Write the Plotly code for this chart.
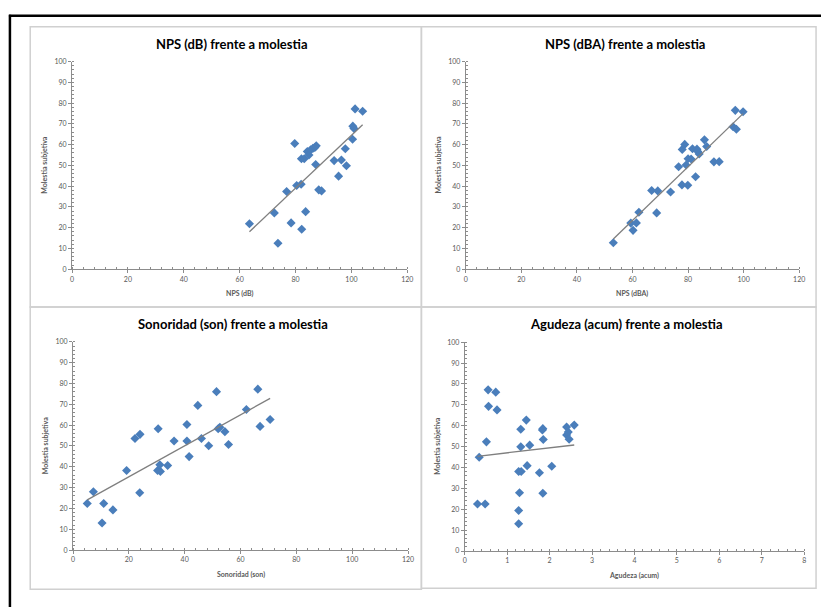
import numpy as np
import plotly.graph_objects as go

# ---------------- data ----------------
nps_db_x = [63.5, 72.4, 73.7, 76.8, 78.4, 79.7, 80.4, 82.0, 82.1, 82.2, 83.1, 83.6,
            84.2, 84.8, 85.4, 86.2, 86.9, 87.4, 87.2, 88.3, 89.3, 93.8, 95.4, 96.4,
            97.8, 98.2, 100.4, 100.5, 100.9, 101.3, 104.0]
nps_db_y = [21.9, 27.1, 12.5, 37.4, 22.3, 60.5, 40.3, 40.9, 53.2, 19.2, 53.2, 27.7,
            56.7, 55.0, 57.5, 58.2, 58.6, 59.4, 50.4, 38.2, 37.7, 52.3, 44.8, 52.6,
            58.0, 49.8, 62.6, 68.9, 67.8, 77.2, 76.1]

nps_dba_x = [53.1, 59.4, 61.4, 60.2, 62.3, 66.9, 69.1, 68.7, 73.7, 76.6, 77.8, 79.9,
             77.9, 78.8, 79.3, 80.0, 81.1, 81.6, 82.7, 83.2, 83.5, 84.0, 85.9, 86.7,
             89.3, 91.2, 96.2, 97.4, 97.0, 99.8]
nps_dba_y = [12.7, 22.2, 22.3, 18.7, 27.4, 37.9, 37.7, 27.1, 37.2, 49.3, 40.6, 40.4,
             57.7, 60.1, 50.2, 53.2, 53.1, 58.0, 44.5, 57.8, 56.7, 55.5, 62.3, 59.1,
             51.7, 51.8, 68.6, 67.4, 76.5, 75.8]

son_x = [5.1, 7.3, 10.4, 11.0, 14.3, 19.2, 22.2, 24.0, 23.9, 30.5, 30.3, 31.3, 31.1,
         33.9, 36.2, 40.8, 40.8, 41.6, 44.7, 46.0, 48.6, 51.4, 52.0, 52.6, 54.4,
         55.7, 62.1, 66.2, 67.0, 70.6]
son_y = [22.4, 28.0, 13.0, 22.4, 19.3, 38.2, 53.6, 55.6, 27.5, 58.3, 38.2, 37.8, 41.0,
         40.6, 52.4, 60.3, 52.4, 44.9, 69.5, 53.6, 50.1, 76.1, 58.3, 59.0, 56.9,
         50.7, 67.5, 77.3, 59.4, 62.7]

agu_x = [0.55, 0.73, 0.56, 0.76, 1.45, 1.32, 1.84, 1.83, 2.40, 2.58, 2.40, 2.44, 2.46,
         0.51, 1.85, 1.32, 1.53, 0.34, 1.47, 2.05, 1.27, 1.33, 1.76, 1.29, 1.84,
         0.30, 0.48, 1.27, 1.27]
agu_y = [77.2, 76.1, 69.3, 67.6, 62.7, 58.3, 58.6, 58.0, 59.4, 60.3, 55.6, 57.0, 53.5,
         52.3, 53.4, 49.9, 50.7, 44.9, 40.9, 40.6, 38.1, 38.1, 37.5, 27.9, 27.7,
         22.5, 22.5, 19.4, 13.1]

titles = ["NPS (dB) frente a molestia", "NPS (dBA) frente a molestia",
          "Sonoridad (son) frente a molestia", "Agudeza (acum) frente a molestia"]
xtitles = ["NPS (dB)", "NPS (dBA)", "Sonoridad (son)", "Agudeza (acum)"]
ytitle = "Molestia subjetiva"

# ---------------- layout geometry ----------------
W, H = 827, 610
def px(x): return x / W
def py(y): return 1 - y / H

panels = [
    dict(x=nps_db_x, y=nps_db_y, xr=[0, 120], xd=20, xm=4, box=(70.7, 409.3, 57.3, 267.7)),
    dict(x=nps_dba_x, y=nps_dba_y, xr=[0, 120], xd=20, xm=4, box=(468.3, 805.0, 57.3, 267.7)),
    dict(x=son_x, y=son_y, xr=[0, 120], xd=20, xm=4, box=(71.7, 410.0, 341.4, 552.3)),
    dict(x=agu_x, y=agu_y, xr=[0, 8], xd=1, xm=0.2, box=(467.3, 810.0, 341.7, 553.3)),
]

FONT = "Lato, 'Open Sans', sans-serif"
MARK = "#4A7EBB"
AXC = "#8C8C8C"
TXT = "#595959"

fig = go.Figure()
annotations = []
shapes = []

for i, p in enumerate(panels):
    n = i + 1
    xa = "x" if n == 1 else f"x{n}"
    ya = "y" if n == 1 else f"y{n}"
    x0, x1, y0, y1 = p["box"]
    fig.add_trace(go.Scatter(
        x=p["x"], y=p["y"], mode="markers", xaxis=xa, yaxis=ya,
        marker=dict(symbol="diamond", size=7, color=MARK, line=dict(width=0)),
        showlegend=False, hoverinfo="x+y"))
    # linear trendline (least squares, as in Excel)
    xs = np.array(p["x"]); ys = np.array(p["y"])
    b, a = np.polyfit(xs, ys, 1)
    tx = np.array([xs.min(), xs.max()])
    fig.add_trace(go.Scatter(
        x=tx, y=a + b * tx, mode="lines", xaxis=xa, yaxis=ya,
        line=dict(color="#7F7F7F", width=1.3), showlegend=False, hoverinfo="skip"))

    axcommon = dict(showgrid=False, zeroline=False, showline=True, linecolor=AXC,
                    linewidth=1, ticks="outside", ticklen=3, tickcolor=AXC,
                    tickfont=dict(family=FONT, size=7, color=TXT), fixedrange=True)
    fig.layout[f"xaxis{'' if n == 1 else n}"] = dict(
        axcommon, domain=[px(x0), px(x1)], range=p["xr"], dtick=p["xd"], tick0=0,
        anchor=ya,
        minor=dict(dtick=p["xm"], ticks="inside", ticklen=2, tickcolor=AXC, showgrid=False))
    fig.layout[f"yaxis{'' if n == 1 else n}"] = dict(
        axcommon, domain=[py(y1), py(y0)], range=[0, 100], dtick=10, tick0=0,
        anchor=xa,
        minor=dict(dtick=2, ticks="inside", ticklen=2, tickcolor=AXC, showgrid=False))

    cx = (x0 + x1) / 2
    # title
    annotations.append(dict(text=f"<b>{titles[i]}</b>", x=px(cx - 8), y=py(y0 - 18),
                            xref="paper", yref="paper", showarrow=False,
                            font=dict(family=FONT, size=13, color="#000000"),
                            xanchor="center", yanchor="middle"))
    # x title
    annotations.append(dict(text=f"<b>{xtitles[i]}</b>", x=px(cx), y=py(y1 + 24.5),
                            xref="paper", yref="paper", showarrow=False,
                            font=dict(family=FONT, size=7, color=TXT),
                            xanchor="center", yanchor="middle"))
    # y title
    annotations.append(dict(text=f"<b>{ytitle}</b>", x=px(x0 - 28), y=py((y0 + y1) / 2),
                            xref="paper", yref="paper", showarrow=False, textangle=-90,
                            font=dict(family=FONT, size=7, color=TXT),
                            xanchor="center", yanchor="middle"))

# panel frames (gray)
GR = "#D0D0D0"
for (a, b, c, d) in [(28.5, 423.5, 22, 306), (423.5, 822, 22, 306),
                     (28.5, 423.5, 306, 592), (423.5, 822, 306, 591)]:
    shapes.append(dict(type="rect", xref="paper", yref="paper",
                       x0=px(a), x1=px(b), y0=py(d), y1=py(c),
                       line=dict(color=GR, width=1.5), layer="below"))
# outer black border (top and left)
shapes.append(dict(type="line", xref="paper", yref="paper", x0=px(7), x1=1.0,
                   y0=py(11), y1=py(11), line=dict(color="black", width=2.5)))
shapes.append(dict(type="line", xref="paper", yref="paper", x0=px(8), x1=px(8),
                   y0=py(10), y1=0, line=dict(color="black", width=2.5)))

fig.update_layout(width=W, height=H, margin=dict(l=0, r=0, t=0, b=0),
                  paper_bgcolor="white", plot_bgcolor="white",
                  annotations=annotations, shapes=shapes, showlegend=False,
                  font=dict(family=FONT))

fig.write_html("out.html")
